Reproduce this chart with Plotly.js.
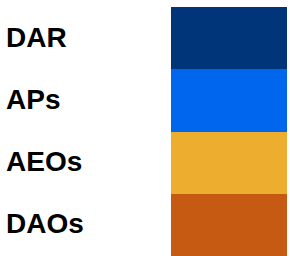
<!DOCTYPE html>
<html><head><meta charset="utf-8">
<script src="https://cdn.plot.ly/plotly-3.0.1.min.js"></script>
<style>html,body{margin:0;padding:0;background:#fff;}#chart{width:290px;height:256px;}</style>
</head><body><div id="chart"></div>
<script>
var categories = ['DAR', 'APs', 'AEOs', 'DAOs'];
var values = [1, 1, 1, 1];
var colors = ['#003579', '#0066ee', '#edae30', '#c65a12'];

var trace = {
  type: 'bar', orientation: 'h',
  y: categories, x: values,
  marker: {color: colors, line: {width: 0}},
  width: 1, hoverinfo: 'none'
};
var annotations = categories.map(function(c){
  return {xref: 'paper', yref: 'y', x: -167/116, y: c, xanchor: 'left', yanchor: 'middle',
    yshift: 1,
    text: '<b>' + c + '</b>', showarrow: false,
    font: {family: 'Liberation Sans, Arial, sans-serif', size: 28, color: '#000'}};
});
var layout = {
  width: 290, height: 256,
  margin: {l: 171, r: 3, t: 7, b: 0, pad: 0},
  paper_bgcolor: '#fff', plot_bgcolor: '#fff',
  showlegend: false, bargap: 0,
  xaxis: {range: [0, 1], visible: false, fixedrange: true},
  yaxis: {categoryorder: 'array', categoryarray: categories, autorange: 'reversed',
          showticklabels: false, showgrid: false, zeroline: false, ticks: '', fixedrange: true},
  annotations: annotations
};
Plotly.newPlot('chart', [trace], layout, {staticPlot: true, displayModeBar: false});
</script></body></html>
